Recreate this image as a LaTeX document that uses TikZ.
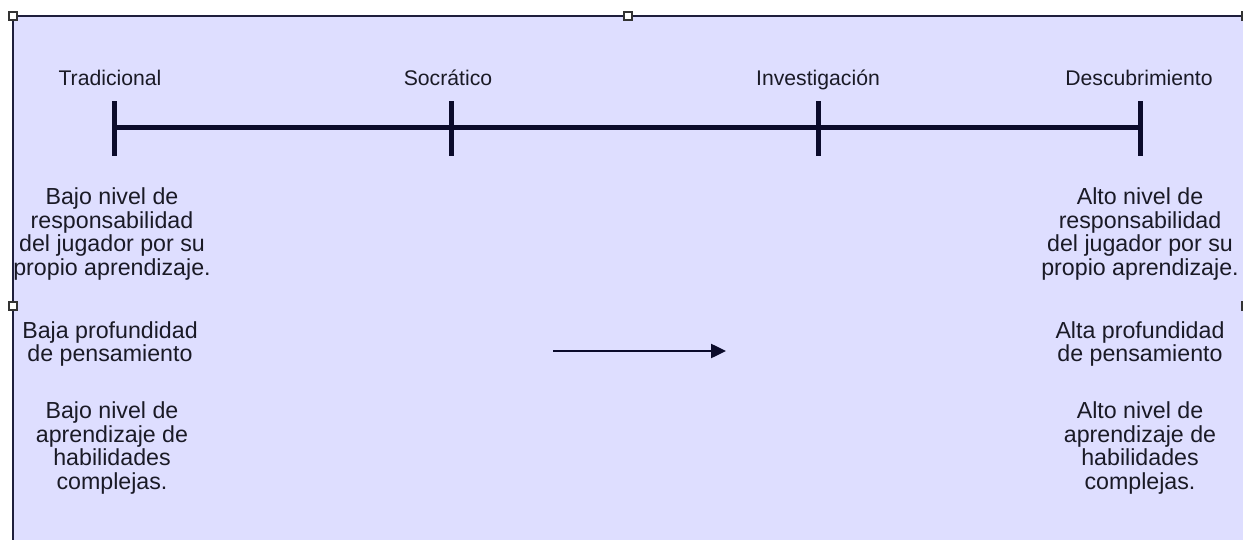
\documentclass[tikz,border=0pt]{standalone}
\usepackage{fontspec}
\setmainfont{Liberation Sans}
\usetikzlibrary{arrows.meta}
\definecolor{bgfill}{HTML}{DEDEFF}
\definecolor{edge}{HTML}{1E1E3C}
\definecolor{bar}{HTML}{0B0B2B}
\definecolor{txt}{HTML}{1A1A26}
\tikzset{
  lbl/.style={inner sep=0pt, text=txt, font=\fontsize{21.2}{24}\selectfont, align=center},
  body/.style={inner sep=0pt, text=txt, font=\fontsize{23.2}{23.6}\selectfont, align=center},
  tickline/.style={draw=bar, line width=5pt},
  handle/.style={draw=black!80, fill=white, line width=1.2pt, minimum size=8pt, inner sep=0pt, rectangle},
  flow/.style={draw=bar, line width=2.5pt, -{Triangle[length=15pt,width=14pt]}}
}
\begin{document}
\begin{tikzpicture}[x=1pt,y=-1pt]
\useasboundingbox (0,0) rectangle (1243,540);
\begin{scope}
\clip (0,0) rectangle (1243,540);
\draw[edge, fill=bgfill, line width=2pt] (13,16) rectangle (1252,560);
% timeline
\coordinate (t1) at (114,128);
\coordinate (t2) at (451,128);
\coordinate (t3) at (818,128);
\coordinate (t4) at (1140,128);
\draw[tickline] (t1) -- (t4);
\foreach \p in {t1,t2,t3,t4}{
  \draw[tickline] ([yshift=-28pt]\p) -- ([yshift=27pt]\p);
}
\node[lbl, anchor=base] (n1) at (110,86) {Tradicional};
\node[lbl, anchor=base] (n2) at (448,86) {Socrático};
\node[lbl, anchor=base] (n3) at (818,86) {Investigación};
\node[lbl, anchor=base] (n4) at (1139,86) {Descubrimiento};
% left texts
\node[body] (l1) at (112,234) {Bajo nivel de\\responsabilidad\\del jugador por su\\propio aprendizaje.};
\node[body] (l2) at (110,344) {Baja profundidad\\de pensamiento};
\node[body] (l3) at (112,448) {Bajo nivel de\\aprendizaje de\\habilidades\\complejas.};
% right texts
\node[body] (r1) at (1140,234) {Alto nivel de\\responsabilidad\\del jugador por su\\propio aprendizaje.};
\node[body] (r2) at (1140,344) {Alta profundidad\\de pensamiento};
\node[body] (r3) at (1140,448) {Alto nivel de\\aprendizaje de\\habilidades\\complejas.};
% arrow
\coordinate (a1) at (553,351);
\coordinate (a2) at (726,351);
\draw[flow] (a1) -- (a2);
% selection handles
\node[handle] (h1) at (13,16) {};
\node[handle] (h2) at (628,16) {};
\node[handle] (h3) at (13,306) {};
\node[handle] (h4) at (1246,16) {};
\node[handle] (h5) at (1246,306) {};
\end{scope}
\end{tikzpicture}
\end{document}
